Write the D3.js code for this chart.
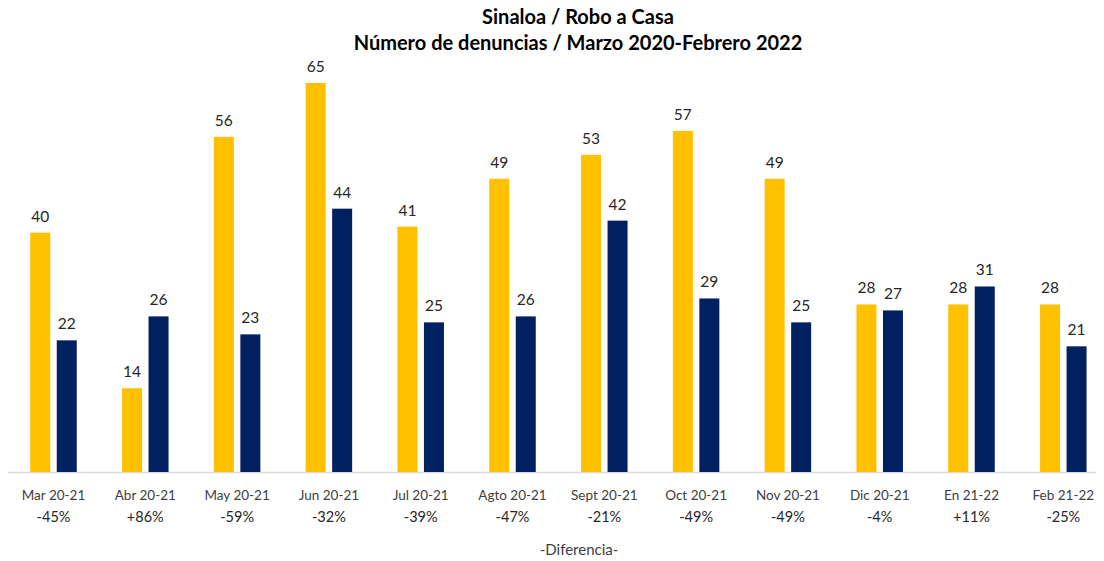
<!DOCTYPE html>
<html><head><meta charset="utf-8">
<script src="https://cdn.jsdelivr.net/npm/d3@7"></script>
<style>body{margin:0;background:#fff}svg{display:block}text{font-family:Lato,"Open Sans",sans-serif}</style>
</head><body><svg id="c" width="1104" height="561"></svg>
<script>
const categories=["Mar 20-21","Abr 20-21","May 20-21","Jun 20-21","Jul 20-21","Agto 20-21","Sept 20-21","Oct 20-21","Nov 20-21","Dic 20-21","En 21-22","Feb 21-22"];
const series2020=[40,14,56,65,41,49,53,57,49,28,28,28];
const series2021=[22,26,23,44,25,26,42,29,25,27,31,21];
const diffLabels=["-45%","+86%","-59%","-32%","-39%","-47%","-21%","-49%","-49%","-4%","+11%","-25%"];
const titleLines=["Sinaloa / Robo a Casa","Número de denuncias / Marzo 2020-Febrero 2022"];
const xTitle="-Diferencia-";

const svg=d3.select("#c");
const base=472;
const x=d3.scaleBand().domain(categories).range([7.6,1109.2]);
const y=d3.scaleLinear().domain([0,65]).range([base,83]);
const bw=20, gap=6.5;

svg.selectAll(".t").data(titleLines).join("text")
 .attr("x",578).attr("y",(d,i)=>24+i*26).attr("text-anchor","middle")
 .attr("font-size",20).attr("font-weight","bold").attr("fill","#000").text(d=>d);

svg.append("line").attr("x1",8).attr("x2",1096).attr("y1",base+0.5).attr("y2",base+0.5)
 .attr("stroke","#d9d9d9").attr("stroke-width",1.5);

const c=d=>x(d)+x.bandwidth()/2;
const g=svg.append("g");
g.selectAll(".a").data(categories).join("rect")
 .attr("x",d=>c(d)-gap/2-bw).attr("width",bw)
 .attr("y",(d,i)=>y(series2020[i])).attr("height",(d,i)=>base-y(series2020[i]))
 .attr("fill","#FFC000");
g.selectAll(".b").data(categories).join("rect")
 .attr("x",d=>c(d)+gap/2).attr("width",bw)
 .attr("y",(d,i)=>y(series2021[i])).attr("height",(d,i)=>base-y(series2021[i]))
 .attr("fill","#002060");

g.selectAll(".la").data(categories).join("text")
 .attr("x",d=>c(d)-gap/2-bw/2).attr("y",(d,i)=>y(series2020[i])-11)
 .attr("text-anchor","middle").attr("font-size",15.5).attr("fill","#262626").text((d,i)=>series2020[i]);
g.selectAll(".lb").data(categories).join("text")
 .attr("x",d=>c(d)+gap/2+bw/2).attr("y",(d,i)=>y(series2021[i])-11)
 .attr("text-anchor","middle").attr("font-size",15.5).attr("fill","#262626").text((d,i)=>series2021[i]);

g.selectAll(".cl").data(categories).join("text")
 .attr("x",d=>c(d)).attr("y",500).attr("text-anchor","middle")
 .attr("font-size",13.5).attr("fill","#404040").text(d=>d);
g.selectAll(".dl").data(categories).join("text")
 .attr("x",d=>c(d)).attr("y",522).attr("text-anchor","middle")
 .attr("font-size",14.5).attr("fill","#262626").text((d,i)=>diffLabels[i]);

svg.append("text").attr("x",579).attr("y",555).attr("text-anchor","middle")
 .attr("font-size",15).attr("fill","#404040").text(xTitle);
</script></body></html>
